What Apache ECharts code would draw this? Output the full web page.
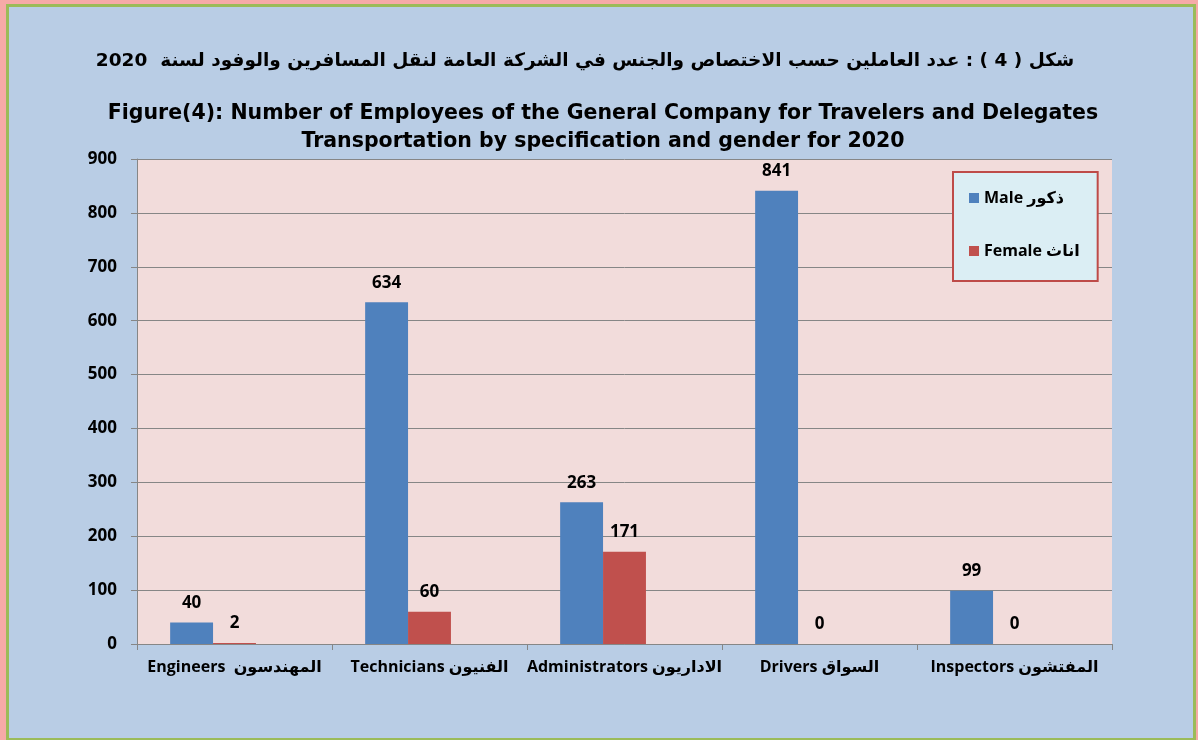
<!DOCTYPE html>
<html>
<head>
<meta charset="utf-8">
<script src="https://cdn.jsdelivr.net/npm/echarts@6/dist/echarts.min.js"></script>
<style>
  html, body { margin: 0; padding: 0; }
  #main { width: 1198px; height: 740px; }
</style>
</head>
<body>
<div id="main"></div>
<script>
const categories = [
  'Engineers  المهندسون',
  'Technicians الفنيون',
  'Administrators الاداريون',
  'Drivers السواق',
  'Inspectors المفتشون'
]
const maleValues = [40, 634, 263, 841, 99]
const femaleValues = [2, 60, 171, 0, 0]
// empty third column kept by the original sheet, it only shifts the bars left
const blankValues = [null, null, null, null, null]

const maleName = 'Male ذكور'
const femaleName = 'Female اناث'

const labelFont = '"Open Sans", "DejaVu Sans", sans-serif'

const chart = echarts.init(document.getElementById('main'))

const valueLabel = {
  show: true,
  position: 'top',
  distance: 11,
  color: '#000',
  fontWeight: 'bold',
  fontSize: 17,
  fontFamily: labelFont
}

const option = {
  animation: false,
  graphic: [
    // pink outer edge, green frame, blue chart area
    { type: 'rect', z: -10, silent: true, shape: { x: 0, y: 0, width: 1198, height: 740 }, style: { fill: '#f6aaa8' } },
    { type: 'rect', z: -10, silent: true, shape: { x: 6, y: 4, width: 1190, height: 736 }, style: { fill: '#9bbb59' } },
    { type: 'rect', z: -10, silent: true, shape: { x: 9, y: 7, width: 1184, height: 731 }, style: { fill: '#b9cde5' } }
  ],
  title: [
    {
      text: 'شكل ( 4 ) : عدد العاملين حسب الاختصاص والجنس في الشركة العامة لنقل المسافرين والوفود لسنة  2020',
      left: 580,
      textAlign: 'center',
      top: 47,
      textStyle: { fontFamily: '"DejaVu Sans", sans-serif', fontWeight: 'bold', fontSize: 18.5, color: '#000' }
    },
    {
      text: 'Figure(4): Number of Employees of the General Company for Travelers and Delegates\nTransportation by specification and gender for 2020',
      left: 598,
      textAlign: 'center',
      top: 95,
      textStyle: { fontFamily: '"DejaVu Sans", sans-serif', fontWeight: 'bold', fontSize: 20.5, lineHeight: 28, color: '#000' }
    }
  ],
  legend: {
    data: [maleName, femaleName],
    orient: 'vertical',
    left: 953,
    top: 172,
    padding: [18, 18, 22, 16],
    itemGap: 37,
    itemWidth: 10,
    itemHeight: 10,
    icon: 'rect',
    backgroundColor: '#dbeef4',
    borderColor: '#be4b48',
    borderWidth: 2,
    textStyle: { fontFamily: labelFont, fontWeight: 'bold', fontSize: 16, color: '#000' }
  },
  grid: {
    left: 137,
    right: 86,
    top: 159,
    bottom: 96,
    show: true,
    backgroundColor: '#f2dcdb',
    borderWidth: 0
  },
  xAxis: {
    type: 'category',
    data: categories,
    axisLine: { lineStyle: { color: '#868686' } },
    axisTick: { show: true, interval: 0, length: 6, lineStyle: { color: '#868686' } },
    axisLabel: {
      interval: 0,
      margin: 15,
      color: '#000',
      fontWeight: 'bold',
      fontSize: 16,
      fontFamily: labelFont
    }
  },
  yAxis: {
    type: 'value',
    min: 0,
    max: 900,
    interval: 100,
    axisLine: { show: true, lineStyle: { color: '#868686' } },
    axisTick: { show: true, length: 6, lineStyle: { color: '#868686' } },
    splitLine: { lineStyle: { color: '#868686', width: 1 } },
    axisLabel: {
      margin: 20,
      color: '#000',
      fontWeight: 'bold',
      fontSize: 17,
      fontFamily: labelFont
    }
  },
  series: [
    {
      name: maleName,
      type: 'bar',
      data: maleValues,
      barGap: '0%',
      barCategoryGap: '34%',
      itemStyle: { color: '#4f81bd' },
      label: valueLabel
    },
    {
      name: femaleName,
      type: 'bar',
      data: femaleValues,
      itemStyle: { color: '#c0504d' },
      label: valueLabel
    },
    {
      name: 'blank',
      type: 'bar',
      data: blankValues,
      itemStyle: { color: '#9bbb59' }
    }
  ]
}
chart.setOption(option)
</script>
</body>
</html>
